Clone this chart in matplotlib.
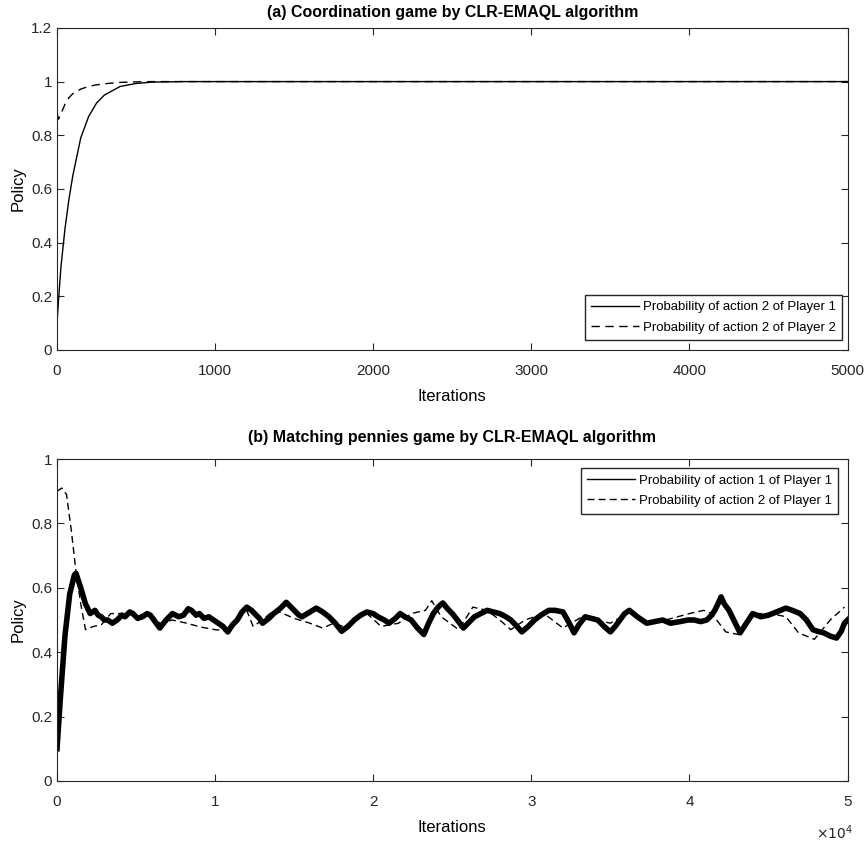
import matplotlib
matplotlib.use("Agg")
import matplotlib.pyplot as plt
from matplotlib.ticker import FuncFormatter
from matplotlib import font_manager

# --- (a) coordination game ---
iters_a = [0, 10, 25, 50, 75, 100, 150, 200, 250, 300, 400, 500, 600, 800, 1000, 5000]
p1_action2 = [0.10, 0.19, 0.31, 0.45, 0.56, 0.65, 0.79, 0.87, 0.92, 0.95, 0.982, 0.993, 0.998, 1.0, 1.0, 1.0]
p2_action2 = [0.88, 0.86, 0.88, 0.915, 0.94, 0.955, 0.972, 0.982, 0.988, 0.992, 0.997, 0.999, 1.0, 1.0, 1.0, 1.0]

# --- (b) matching pennies ---
iters_b1 = [0, 200, 500, 800, 1100, 1200, 1500, 1800, 2100, 2400, 2600, 2800, 3000, 3200, 3500,
            3800, 4100, 4300, 4600, 4800, 5100, 5400, 5700, 5900, 6200, 6500, 6900, 7300, 7700,
            8000, 8300, 8500, 8800, 9000, 9300, 9600, 9900, 10200, 10500, 10800, 11100, 11400,
            11700, 12000, 12300, 12500, 12800, 13000, 13400, 13700, 14100, 14500, 14800, 15000,
            15300, 15500, 16000, 16400, 16800, 17200, 17600, 18000, 18400, 18800, 19200, 19600,
            20000, 20300, 20700, 21000, 21400, 21700, 22000, 22400, 22800, 23200, 23500, 23800,
            24100, 24400, 24700, 25000, 25400, 25700, 26000, 26400, 26800, 27200, 27600, 28000,
            28400, 28700, 29000, 29400, 29800, 30200, 30600, 31100, 31500, 32000, 32400, 32700,
            33000, 33400, 33800, 34200, 34600, 35000, 35300, 35600, 35900, 36200, 36700, 37300,
            37800, 38300, 38800, 39400, 39900, 40300, 40700, 41100, 41400, 41600, 41800, 42000,
            42200, 42500, 42900, 43200, 43600, 44000, 44500, 45000, 45500, 46100, 46500, 47000,
            47400, 47800, 48100, 48500, 48900, 49300, 49600, 49800, 50000]
p1_action1 = [0.10, 0.25, 0.45, 0.58, 0.64, 0.645, 0.60, 0.55, 0.52, 0.53, 0.515, 0.51, 0.50, 0.50, 0.49,
              0.50, 0.515, 0.51, 0.525, 0.52, 0.505, 0.51, 0.52, 0.515, 0.495, 0.475, 0.50, 0.52, 0.51,
              0.515, 0.535, 0.53, 0.515, 0.52, 0.505, 0.51, 0.50, 0.49, 0.48, 0.463, 0.485, 0.50,
              0.525, 0.54, 0.53, 0.52, 0.505, 0.49, 0.505, 0.52, 0.535, 0.555, 0.54, 0.53,
              0.515, 0.51, 0.525, 0.537, 0.525, 0.51, 0.49, 0.465, 0.48, 0.50, 0.515, 0.525,
              0.52, 0.51, 0.50, 0.49, 0.505, 0.52, 0.51, 0.50, 0.475, 0.455, 0.49, 0.52,
              0.54, 0.553, 0.535, 0.52, 0.495, 0.475, 0.49, 0.51, 0.52, 0.53, 0.525, 0.52,
              0.51, 0.50, 0.485, 0.463, 0.48, 0.50, 0.515, 0.53, 0.53, 0.525, 0.49, 0.46,
              0.485, 0.51, 0.505, 0.50, 0.48, 0.463, 0.48, 0.50, 0.52, 0.53, 0.51, 0.49,
              0.495, 0.50, 0.49, 0.495, 0.50, 0.50, 0.495, 0.50, 0.515, 0.53, 0.55, 0.572,
              0.55, 0.53, 0.49, 0.46, 0.49, 0.52, 0.51, 0.515, 0.525, 0.537, 0.53, 0.52,
              0.50, 0.47, 0.465, 0.46, 0.45, 0.444, 0.465, 0.49, 0.50]

iters_b2 = [0, 300, 600, 900, 1200, 1500, 1800, 2300, 2800, 3400, 4200, 5000, 5900, 6500,
            7300, 8200, 9100, 10000, 10900, 11500, 12000, 12400, 13000, 13700, 14300,
            15000, 16000, 16800, 17500, 18100, 18900, 19600, 20500, 21600, 22400, 23300,
            23700, 24300, 25400, 26300, 27200, 28000, 28700, 29600, 30800, 32000, 33200,
            34100, 35000, 36200, 37300, 38500, 40000, 40900, 41400, 42300, 43100, 44000,
            45200, 46100, 46900, 47900, 48900, 49800]
p1_action2_b = [0.90, 0.91, 0.89, 0.78, 0.65, 0.55, 0.47, 0.48, 0.485, 0.52, 0.52, 0.515, 0.52, 0.49,
                0.50, 0.49, 0.478, 0.47, 0.465, 0.515, 0.53, 0.48, 0.50, 0.53, 0.52,
                0.505, 0.49, 0.475, 0.49, 0.48, 0.50, 0.52, 0.48, 0.49, 0.52, 0.53,
                0.56, 0.51, 0.47, 0.54, 0.53, 0.50, 0.47, 0.50, 0.52, 0.475, 0.51,
                0.50, 0.49, 0.525, 0.49, 0.50, 0.52, 0.53, 0.52, 0.463, 0.455, 0.52,
                0.52, 0.51, 0.46, 0.44, 0.50, 0.54]

names = {f.name for f in font_manager.fontManager.ttflist}
fam = "Liberation Sans Narrow" if "Liberation Sans Narrow" in names else "Liberation Sans"
plt.rcParams["font.family"] = [fam, "DejaVu Sans"]
plt.rcParams["axes.edgecolor"] = "#262626"
plt.rcParams["xtick.color"] = "#262626"
plt.rcParams["ytick.color"] = "#262626"

fig = plt.figure(figsize=(8.64, 8.47), dpi=100)
ax1 = fig.add_axes([0.066, 0.587, 0.915, 0.380])
ax2 = fig.add_axes([0.066, 0.078, 0.915, 0.380])

leg_kw = dict(fontsize=9.5, frameon=True, fancybox=False, edgecolor="#262626", framealpha=1,
              borderpad=0.5, labelspacing=0.6, handlelength=3.6, handletextpad=0.3)

ax1.plot(iters_a, p1_action2, color="black", lw=1.0, label="Probability of action 2 of Player 1")
ax1.plot(iters_a, p2_action2, color="black", lw=1.0, ls=(0, (6, 4)), label="Probability of action 2 of Player 2")
ax1.set_xlim(0, 5000)
ax1.set_ylim(0, 1.2)
ax1.set_xticks([0, 1000, 2000, 3000, 4000, 5000])
ax1.set_yticks([0, 0.2, 0.4, 0.6, 0.8, 1.0, 1.2])
ax1.set_yticklabels(["0", "0.2", "0.4", "0.6", "0.8", "1", "1.2"])
ax1.set_title("(a) Coordination game by CLR-EMAQL algorithm", fontsize=11.5, fontweight="bold", pad=8)
ax1.set_xlabel("Iterations", fontsize=12, labelpad=8)
ax1.set_ylabel("Policy", fontsize=12)
ax1.legend(loc="lower right", bbox_to_anchor=(0.9935, 0.03), borderaxespad=0, **leg_kw)

ax2.plot(iters_b1, p1_action1, color="black", lw=4.0, label="Probability of action 1 of Player 1")
ax2.plot(iters_b2, p1_action2_b, color="black", lw=1.0, ls=(0, (5, 3)), label="Probability of action 2 of Player 1")
ax2.set_xlim(0, 50000)
ax2.set_ylim(0, 1)
ax2.set_xticks([0, 10000, 20000, 30000, 40000, 50000])
ax2.xaxis.set_major_formatter(FuncFormatter(lambda v, p: "%d" % round(v / 10000)))
ax2.set_yticks([0, 0.2, 0.4, 0.6, 0.8, 1.0])
ax2.set_yticklabels(["0", "0.2", "0.4", "0.6", "0.8", "1"])
ax2.set_title("(b) Matching pennies game by CLR-EMAQL algorithm", fontsize=11.5, fontweight="bold", pad=12)
ax2.set_xlabel("Iterations", fontsize=12, labelpad=8)
ax2.set_ylabel("Policy", fontsize=12)
leg2 = ax2.legend(loc="upper right", bbox_to_anchor=(0.9885, 0.972), borderaxespad=0, **leg_kw)
for h in leg2.get_lines():
    h.set_linewidth(1.0)
fig.text(0.966, 0.0165, r"$\times10^4$", fontsize=10, ha="center", va="center", color="#262626")

for ax in (ax1, ax2):
    ax.tick_params(direction="in", top=True, right=True, labelsize=11, length=5, width=0.8)
    ax.tick_params(axis="x", pad=10)
    for s in ax.spines.values():
        s.set_linewidth(0.8)

fig.savefig("out.png", dpi=100)
